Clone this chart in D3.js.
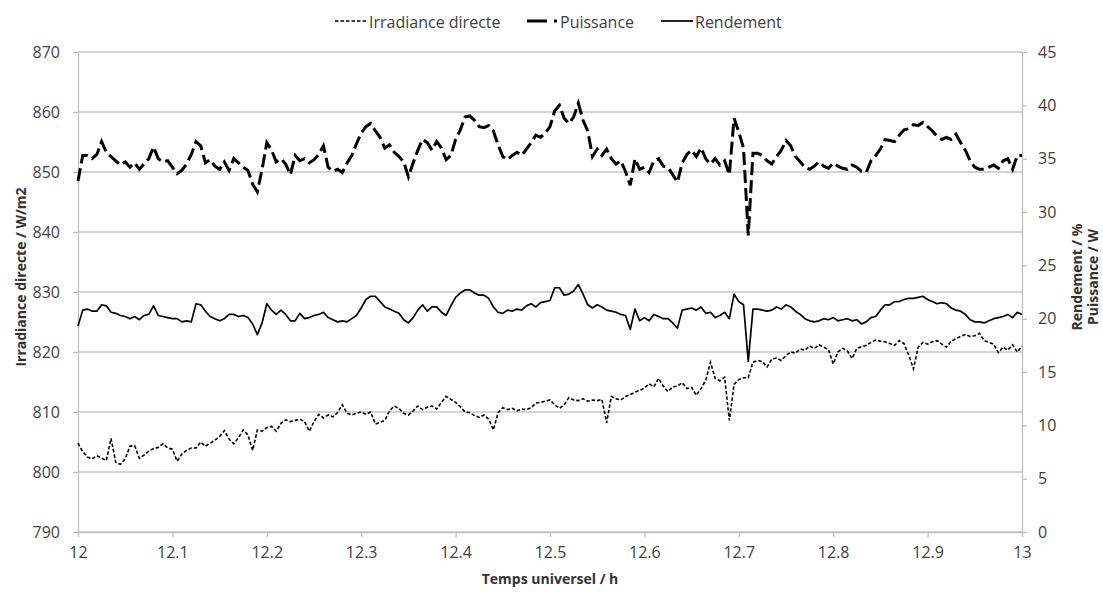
<!DOCTYPE html>
<html>
<head>
<meta charset="utf-8">
<script src="https://cdn.jsdelivr.net/npm/d3@7"></script>
<style>
  body { margin: 0; background: #fff; }
  text { font-family: "Open Sans", sans-serif; }
</style>
</head>
<body>
<svg id="chart" width="1103" height="592"></svg>
<script>
// Sampling of the recording: one value every 0.005 h from 12 h UT
const startHour = 12;
const stepHour = 0.005;

// Direct irradiance, W/m2 (left axis)
const irradiance = [
  804.8,803.4,802.5,802.2,802.7,802.3,801.9,805.6,801.6,801.3,
  802.2,804.3,804.4,802.3,802.8,803.5,803.9,804.1,804.7,804.0,
  803.8,801.8,803.0,803.6,804.0,
  804.0,805.0,804.3,804.8,805.3,805.9,806.9,805.5,804.7,805.7,
  807.0,806.2,803.6,807.0,806.8,807.4,807.6,806.8,808.1,808.7,
  808.4,808.6,808.8,808.4,806.8,808.4,809.6,809.0,809.5,809.2,
  809.9,811.2,809.8,809.5,809.8,810.0,809.6,810.0,808.0,808.3,
  808.6,810.2,811.0,810.6,809.8,809.5,810.2,811.0,810.4,
  810.8,811.0,810.5,811.6,812.6,812.1,811.6,810.9,810.0,809.9,
  809.4,809.1,809.5,808.8,807.0,809.9,810.7,810.4,810.6,810.2,
  810.5,810.4,810.7,811.5,811.6,811.8,812.0,811.2,810.6,811.2,
  812.4,812.0,811.9,812.2,811.8,812.0,811.9,812.1,808.2,812.6,
  812.2,812.0,812.6,812.9,813.3,813.6,814.0,814.7,
  814.2,815.6,814.3,813.4,814.2,814.3,814.9,813.9,814.1,812.8,
  813.9,815.3,818.3,815.6,815.2,815.8,808.6,814.6,815.4,815.7,
  815.7,818.3,818.6,818.4,817.5,818.8,819.0,818.6,819.4,820.0,
  819.8,820.5,820.3,821.0,820.6,821.2,820.8,820.4,818.0,820.0,
  820.6,820.2,818.9,820.6,820.9,821.1,821.6,822.0,821.8,
  821.7,821.4,821.1,821.9,821.4,819.5,817.2,820.8,821.6,821.3,
  821.7,821.9,821.3,820.8,821.8,822.2,822.6,822.9,822.6,822.7,
  823.1,821.9,821.6,821.3,819.9,820.8,
  820.3,821.2,820.0,821.0
];

// Power, W (right axis)
const puissance = [
  32.9,35.3,35.3,35.0,35.4,36.6,35.6,35.2,34.8,34.4,
  34.7,34.2,34.6,34.0,34.5,35.0,36.1,35.0,34.7,34.8,
  34.2,33.6,33.9,34.5,35.4,
  36.6,36.2,34.6,34.9,34.3,34.0,34.7,33.9,35.0,34.6,
  34.2,33.9,32.6,31.9,34.0,36.5,35.8,34.7,35.0,34.5,
  33.5,35.3,34.8,35.0,34.6,34.9,35.4,36.2,34.2,33.8,
  34.0,33.7,34.6,35.3,36.4,37.4,38.0,38.3,37.6,37.0,
  36.0,36.3,35.6,35.2,34.7,33.3,34.6,35.8,36.8,
  36.5,35.8,36.6,36.0,34.9,35.3,36.8,37.7,38.9,39.0,
  38.6,38.0,37.9,38.1,37.6,36.3,35.2,34.9,35.3,35.6,
  35.3,35.9,36.5,37.2,37.0,37.4,38.0,39.5,40.0,38.8,
  38.3,38.9,40.2,38.6,37.6,35.2,35.9,35.3,35.9,35.0,
  34.5,34.8,33.8,32.5,35.0,34.0,34.2,33.7,
  34.8,35.0,34.3,34.2,33.5,32.8,34.6,35.4,35.8,35.2,
  36.0,35.0,34.5,35.0,34.4,34.8,33.5,38.8,37.5,36.0,
  27.8,35.5,35.5,35.3,34.8,34.5,35.2,35.8,36.7,36.2,
  35.2,34.7,34.2,34.0,34.3,34.7,34.3,34.1,34.6,34.3,
  34.1,34.0,34.4,34.2,33.8,33.7,34.8,35.3,35.9,
  36.8,36.7,36.6,37.2,37.7,37.8,38.2,38.1,38.4,38.0,
  37.6,37.1,36.8,37.0,36.8,37.3,36.5,35.8,34.8,34.2,
  34.0,34.0,34.2,34.4,34.1,34.8,
  35.0,34.0,35.3,35.3
];

// Efficiency, % (right axis)
const rendement = [
  19.3,20.8,20.9,20.7,20.7,21.3,21.2,20.6,20.5,20.3,
  20.2,20.0,20.2,19.9,20.3,20.4,21.2,20.3,20.2,20.1,
  20.0,20.0,19.7,19.8,19.7,
  21.4,21.3,20.7,20.2,20.0,19.8,20.0,20.4,20.4,20.2,
  20.3,20.1,19.5,18.5,19.6,21.4,20.8,20.4,20.8,20.4,
  19.8,19.8,20.5,20.0,20.1,20.3,20.4,20.6,20.1,19.9,
  19.7,19.8,19.7,20.0,20.3,21.0,21.8,22.1,22.1,21.6,
  21.1,20.9,20.7,20.5,19.9,19.6,20.1,20.8,21.3,
  20.7,21.1,21.1,20.6,20.3,21.2,22.0,22.4,22.7,22.7,
  22.4,22.2,22.2,21.9,21.1,20.6,20.5,20.8,20.7,20.9,
  20.8,21.2,21.4,21.1,21.5,21.6,21.7,22.9,22.9,22.2,
  22.3,22.6,23.2,22.3,21.3,21.0,21.3,21.1,20.8,20.7,
  20.6,20.4,20.3,19.0,20.9,19.8,20.1,19.8,
  20.4,20.2,20.0,20.0,19.6,19.1,20.8,20.9,21.0,20.8,
  21.1,20.5,20.6,20.1,20.3,20.6,20.0,22.3,21.6,21.3,
  16.0,20.9,20.9,20.8,20.7,20.8,21.1,20.9,21.3,21.1,
  20.7,20.4,20.0,19.8,19.7,19.8,20.0,19.9,20.1,19.8,
  19.9,20.0,19.8,19.9,19.5,19.7,20.1,20.2,20.8,
  21.3,21.3,21.6,21.6,21.8,21.9,21.9,22.0,22.1,21.8,
  21.6,21.4,21.5,21.4,21.0,20.8,20.7,20.4,19.9,19.7,
  19.7,19.6,19.8,20.0,20.1,20.2,
  20.4,20.1,20.6,20.4
];

const hourTicks = [12, 12.1, 12.2, 12.3, 12.4, 12.5, 12.6, 12.7, 12.8, 12.9, 13];
const irradianceTicks = [790, 800, 810, 820, 830, 840, 850, 860, 870];
const rightTicks = [0, 5, 10, 15, 20, 25, 30, 35, 40, 45];

const svg = d3.select("#chart");
const plot = { left: 78, right: 1022, top: 52, bottom: 532 };

const x = d3.scaleLinear().domain([12, 13]).range([plot.left, plot.right]);
const yLeft = d3.scaleLinear().domain([790, 870]).range([plot.bottom, plot.top]);
const yRight = d3.scaleLinear().domain([0, 45]).range([plot.bottom, plot.top]);

const axisColor = "#bfbfbf";
const labelColor = "#404040";

// Horizontal gridlines
svg.append("g")
  .selectAll("line")
  .data(irradianceTicks)
  .join("line")
  .attr("x1", plot.left).attr("x2", plot.right)
  .attr("y1", d => yLeft(d)).attr("y2", d => yLeft(d))
  .attr("stroke", "#c6c6c6").attr("stroke-width", 1.3);

function styleAxis(g) {
  g.select(".domain").attr("stroke", axisColor).attr("stroke-width", 1.3);
  g.selectAll(".tick line").attr("stroke", axisColor).attr("stroke-width", 1.3);
  g.selectAll(".tick text")
    .attr("fill", labelColor)
    .style("font-family", '"Open Sans", sans-serif')
    .style("font-size", "16px");
}

// Bottom axis
svg.append("g")
  .attr("transform", `translate(0,${plot.bottom})`)
  .call(d3.axisBottom(x).tickValues(hourTicks).tickSizeInner(5).tickSizeOuter(0)
    .tickFormat(d => String(+d.toFixed(1))).tickPadding(6))
  .call(styleAxis)
  .call(g => g.selectAll(".tick text").attr("dy", "0.95em"));

// Left axis (irradiance)
svg.append("g")
  .attr("transform", `translate(${plot.left},0)`)
  .call(d3.axisLeft(yLeft).tickValues(irradianceTicks).tickSizeInner(5).tickSizeOuter(0)
    .tickFormat(d3.format("d")).tickPadding(13))
  .call(styleAxis);

// Right axis (power and efficiency)
svg.append("g")
  .attr("transform", `translate(${plot.right},0)`)
  .call(d3.axisRight(yRight).tickValues(rightTicks).tickSizeInner(5).tickSizeOuter(0)
    .tickFormat(d3.format("d")).tickPadding(11))
  .call(styleAxis);

// Series
const hourAt = i => startHour + i * stepHour;

const lineLeft = d3.line().x((d, i) => x(hourAt(i))).y(d => yLeft(d));
const lineRight = d3.line().x((d, i) => x(hourAt(i))).y(d => yRight(d));

svg.append("path")
  .datum(irradiance)
  .attr("d", lineLeft)
  .attr("fill", "none").attr("stroke", "#000")
  .attr("stroke-width", 1.6).attr("stroke-dasharray", "3.5,2");

svg.append("path")
  .datum(rendement)
  .attr("d", lineRight)
  .attr("fill", "none").attr("stroke", "#000")
  .attr("stroke-width", 1.7).attr("stroke-linejoin", "round");

svg.append("path")
  .datum(puissance)
  .attr("d", lineRight)
  .attr("fill", "none").attr("stroke", "#000")
  .attr("stroke-width", 3).attr("stroke-dasharray", "13,5");

// Axis titles
svg.append("text")
  .attr("transform", "translate(26,277) rotate(-90)")
  .attr("text-anchor", "middle")
  .attr("fill", "#333")
  .style("font-size", "14px").style("font-weight", "bold")
  .text("Irradiance directe / W/m2");

svg.append("text")
  .attr("transform", "translate(1082,277) rotate(-90)")
  .attr("text-anchor", "middle")
  .attr("fill", "#333")
  .style("font-size", "14px").style("font-weight", "bold")
  .text("Rendement / %");

svg.append("text")
  .attr("transform", "translate(1098,277) rotate(-90)")
  .attr("text-anchor", "middle")
  .attr("fill", "#333")
  .style("font-size", "14px").style("font-weight", "bold")
  .text("Puissance / W");

svg.append("text")
  .attr("x", (plot.left + plot.right) / 2)
  .attr("y", 584)
  .attr("text-anchor", "middle")
  .attr("fill", "#333")
  .style("font-size", "14px").style("font-weight", "bold")
  .text("Temps universel / h");

// Legend
const legendY = 21;
const legend = svg.append("g");

legend.append("line")
  .attr("x1", 335).attr("x2", 367).attr("y1", legendY).attr("y2", legendY)
  .attr("stroke", "#000").attr("stroke-width", 1.6).attr("stroke-dasharray", "3.5,2");
legend.append("text")
  .attr("x", 369).attr("y", legendY + 6.5)
  .attr("fill", labelColor).style("font-size", "16px")
  .text("Irradiance directe");

legend.append("line")
  .attr("x1", 527).attr("x2", 557).attr("y1", legendY).attr("y2", legendY)
  .attr("stroke", "#000").attr("stroke-width", 3).attr("stroke-dasharray", "20,7,3,0");
legend.append("text")
  .attr("x", 560).attr("y", legendY + 6.5)
  .attr("fill", labelColor).style("font-size", "16px")
  .text("Puissance");

legend.append("line")
  .attr("x1", 661).attr("x2", 693).attr("y1", legendY).attr("y2", legendY)
  .attr("stroke", "#000").attr("stroke-width", 1.7);
legend.append("text")
  .attr("x", 695).attr("y", legendY + 6.5)
  .attr("fill", labelColor).style("font-size", "16px")
  .text("Rendement");
</script>
</body>
</html>
